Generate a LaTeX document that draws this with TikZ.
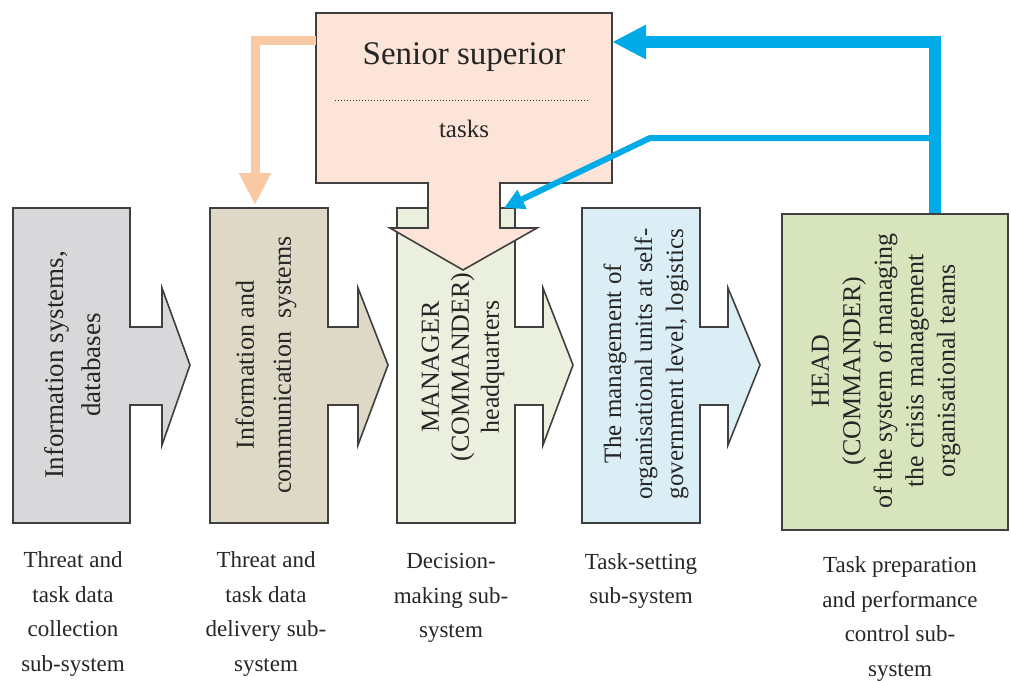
\documentclass[tikz,border=0pt]{standalone}
\usepackage{fontspec}
\setmainfont{Liberation Serif}
\usetikzlibrary{arrows.meta,calc}
\definecolor{edgec}{HTML}{3F3F3F}
\definecolor{gbox}{HTML}{D8D8DA}
\definecolor{tanbox}{HTML}{DDD9C6}
\definecolor{mgrbox}{HTML}{EAF0DD}
\definecolor{bluebox}{HTML}{DCEEF5}
\definecolor{headbox}{HTML}{D8E4BC}
\definecolor{peach}{HTML}{FCE5D8}
\definecolor{orangearr}{HTML}{F9C9A4}
\definecolor{cyanarr}{HTML}{00ABE8}
\tikzset{
  boxline/.style={draw=edgec, line width=1.6pt, line join=miter},
  vtext/.style={rotate=90, align=center, inner sep=0pt, text=black!85},
  lbl/.style={align=center, inner sep=0pt, font=\fontsize{23}{34.5}\selectfont, text=black!85},
  thickblue/.style={draw=cyanarr, line width=12pt, -{Triangle[width=32pt,length=34pt]}},
  thinblue/.style={draw=cyanarr, line width=6pt, -{Triangle[width=20pt,length=20pt]}},
  orangeline/.style={draw=orangearr, line width=9pt, -{Triangle[width=30pt,length=32pt]}}
}
\newcommand\blockarrow[5]{%
  \path[boxline, fill=#1] (#2,208) -- (#3,208) -- (#3,327) -- (#4,327) -- (#4,288)
    -- (#5,365) -- (#4,445) -- (#4,405) -- (#3,405) -- (#3,523) -- (#2,523) -- cycle;}
\begin{document}
\begin{tikzpicture}[x=1pt, y=-1pt]
\useasboundingbox (0,0) rectangle (1011,680);
\fill[white] (0,0) rectangle (1011,680);

% block arrows
\blockarrow{gbox}{13}{130}{162}{190}
\blockarrow{tanbox}{210}{328}{358}{388}
\blockarrow{mgrbox}{397}{515}{543}{573}
\blockarrow{bluebox}{582}{700}{728}{760}

% head box
\node[boxline, fill=headbox, minimum width=226pt, minimum height=316pt, inner sep=0pt] (head) at (895,372) {};

% senior superior shape with down arrow
\path[boxline, fill=peach] (316,13) -- (612,13) -- (612,183) -- (500,183) -- (500,228)
  -- (537,228) -- (463,270) -- (390,228) -- (428,228) -- (428,183) -- (316,183) -- cycle;
\node[inner sep=0pt, font=\fontsize{33}{38}\selectfont, text=black!85] (senior) at (464,57) {Senior superior};
\draw[black!80, line width=1pt, dotted] (335,100) -- (590,100);
\node[inner sep=0pt, font=\fontsize{25}{30}\selectfont, text=black!85] (tasks) at (464,129) {tasks};

% texts in boxes
\node[vtext, font=\fontsize{27}{37}\selectfont] (t1) at (73,365) {Information systems,\\databases};
\node[vtext, font=\fontsize{26}{37}\selectfont] (t2) at (266,365) {Information and\\communication\ \ systems};
\node[vtext, font=\fontsize{26}{30}\selectfont] (t3) at (463,367) {MANAGER\\(COMMANDER)\\headquarters};
\node[vtext, font=\fontsize{25}{31}\selectfont] (t4) at (646,364) {The management of\\organisational units at self-\\government level, logistics};
\node[vtext, font=\fontsize{26}{31.5}\selectfont] (t5) at (886,371) {HEAD\\(COMMANDER)\\of the system of managing\\the crisis management\\organisational teams};

% bottom labels
\node[lbl] (l1) at (73,614) {Threat and\\task data\\collection\\sub-system};
\node[lbl] (l2) at (266,614) {Threat and\\task data\\delivery sub-\\system};
\node[lbl] (l3) at (451,598) {Decision-\\making sub-\\system};
\node[lbl] (l4) at (641,581) {Task-setting\\sub-system};
\node[lbl] (l5) at (900,619) {Task preparation\\and performance\\control sub-\\system};

% connectors
\coordinate (supW) at (316,40);
\coordinate (orangeEnd) at (255,205);
\draw[orangeline] (supW) -- (orangeEnd |- supW) -- (orangeEnd);

\coordinate (headTop) at ($(head.north)+(40,0)$);
\coordinate (supE) at (612,42);
\draw[thickblue] (headTop) -- (headTop |- supE) -- (supE);

\coordinate (branch) at (938,138);
\coordinate (bend) at (650,138);
\coordinate (stemTop) at (504,208);
\draw[thinblue] (branch) -- (bend) -- (stemTop);
\end{tikzpicture}
\end{document}
